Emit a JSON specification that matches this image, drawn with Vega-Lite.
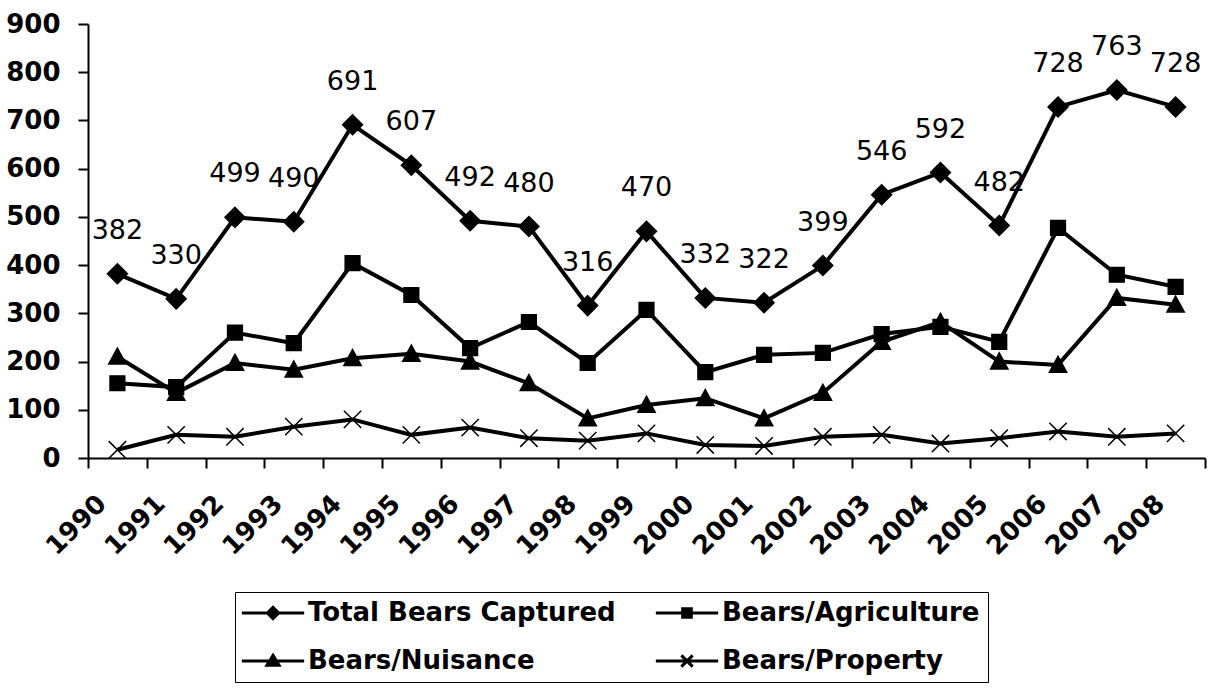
{
  "$schema": "https://vega.github.io/schema/vega-lite/v6.json",
  "width": 1117,
  "height": 434,
  "autosize": "none",
  "padding": {"left": 88, "top": 24, "right": 4, "bottom": 232},
  "background": "white",
  "config": {
    "font": "DejaVu Sans",
    "view": {"stroke": null}
  },
  "resolve": {"scale": {"shape": "independent"}, "legend": {"shape": "independent"}},
  "data": {
    "values": [
      {"year": "1990", "series": "Total Bears Captured", "value": 382},
      {"year": "1991", "series": "Total Bears Captured", "value": 330},
      {"year": "1992", "series": "Total Bears Captured", "value": 499},
      {"year": "1993", "series": "Total Bears Captured", "value": 490},
      {"year": "1994", "series": "Total Bears Captured", "value": 691},
      {"year": "1995", "series": "Total Bears Captured", "value": 607},
      {"year": "1996", "series": "Total Bears Captured", "value": 492},
      {"year": "1997", "series": "Total Bears Captured", "value": 480},
      {"year": "1998", "series": "Total Bears Captured", "value": 316},
      {"year": "1999", "series": "Total Bears Captured", "value": 470},
      {"year": "2000", "series": "Total Bears Captured", "value": 332},
      {"year": "2001", "series": "Total Bears Captured", "value": 322},
      {"year": "2002", "series": "Total Bears Captured", "value": 399},
      {"year": "2003", "series": "Total Bears Captured", "value": 546},
      {"year": "2004", "series": "Total Bears Captured", "value": 592},
      {"year": "2005", "series": "Total Bears Captured", "value": 482},
      {"year": "2006", "series": "Total Bears Captured", "value": 728},
      {"year": "2007", "series": "Total Bears Captured", "value": 763},
      {"year": "2008", "series": "Total Bears Captured", "value": 728},
      {"year": "1990", "series": "Bears/Agriculture", "value": 155},
      {"year": "1991", "series": "Bears/Agriculture", "value": 147},
      {"year": "1992", "series": "Bears/Agriculture", "value": 260},
      {"year": "1993", "series": "Bears/Agriculture", "value": 238},
      {"year": "1994", "series": "Bears/Agriculture", "value": 404},
      {"year": "1995", "series": "Bears/Agriculture", "value": 338},
      {"year": "1996", "series": "Bears/Agriculture", "value": 228},
      {"year": "1997", "series": "Bears/Agriculture", "value": 282},
      {"year": "1998", "series": "Bears/Agriculture", "value": 197},
      {"year": "1999", "series": "Bears/Agriculture", "value": 307},
      {"year": "2000", "series": "Bears/Agriculture", "value": 178},
      {"year": "2001", "series": "Bears/Agriculture", "value": 214},
      {"year": "2002", "series": "Bears/Agriculture", "value": 218},
      {"year": "2003", "series": "Bears/Agriculture", "value": 257},
      {"year": "2004", "series": "Bears/Agriculture", "value": 272},
      {"year": "2005", "series": "Bears/Agriculture", "value": 241},
      {"year": "2006", "series": "Bears/Agriculture", "value": 477},
      {"year": "2007", "series": "Bears/Agriculture", "value": 380},
      {"year": "2008", "series": "Bears/Agriculture", "value": 355},
      {"year": "1990", "series": "Bears/Nuisance", "value": 210},
      {"year": "1991", "series": "Bears/Nuisance", "value": 135},
      {"year": "1992", "series": "Bears/Nuisance", "value": 197},
      {"year": "1993", "series": "Bears/Nuisance", "value": 183},
      {"year": "1994", "series": "Bears/Nuisance", "value": 207},
      {"year": "1995", "series": "Bears/Nuisance", "value": 216},
      {"year": "1996", "series": "Bears/Nuisance", "value": 200},
      {"year": "1997", "series": "Bears/Nuisance", "value": 155},
      {"year": "1998", "series": "Bears/Nuisance", "value": 82},
      {"year": "1999", "series": "Bears/Nuisance", "value": 110},
      {"year": "2000", "series": "Bears/Nuisance", "value": 124},
      {"year": "2001", "series": "Bears/Nuisance", "value": 82},
      {"year": "2002", "series": "Bears/Nuisance", "value": 135},
      {"year": "2003", "series": "Bears/Nuisance", "value": 241},
      {"year": "2004", "series": "Bears/Nuisance", "value": 282},
      {"year": "2005", "series": "Bears/Nuisance", "value": 200},
      {"year": "2006", "series": "Bears/Nuisance", "value": 193},
      {"year": "2007", "series": "Bears/Nuisance", "value": 332},
      {"year": "2008", "series": "Bears/Nuisance", "value": 318},
      {"year": "1990", "series": "Bears/Property", "value": 17},
      {"year": "1991", "series": "Bears/Property", "value": 48},
      {"year": "1992", "series": "Bears/Property", "value": 44},
      {"year": "1993", "series": "Bears/Property", "value": 65},
      {"year": "1994", "series": "Bears/Property", "value": 80},
      {"year": "1995", "series": "Bears/Property", "value": 48},
      {"year": "1996", "series": "Bears/Property", "value": 63},
      {"year": "1997", "series": "Bears/Property", "value": 41},
      {"year": "1998", "series": "Bears/Property", "value": 36},
      {"year": "1999", "series": "Bears/Property", "value": 51},
      {"year": "2000", "series": "Bears/Property", "value": 27},
      {"year": "2001", "series": "Bears/Property", "value": 25},
      {"year": "2002", "series": "Bears/Property", "value": 44},
      {"year": "2003", "series": "Bears/Property", "value": 48},
      {"year": "2004", "series": "Bears/Property", "value": 30},
      {"year": "2005", "series": "Bears/Property", "value": 41},
      {"year": "2006", "series": "Bears/Property", "value": 55},
      {"year": "2007", "series": "Bears/Property", "value": 44},
      {"year": "2008", "series": "Bears/Property", "value": 51}
    ]
  },
  "encoding": {
    "x": {
      "field": "year",
      "type": "ordinal",
      "scale": {"type": "band", "paddingInner": 0, "paddingOuter": 0},
      "axis": {
        "title": null,
        "tickBand": "extent",
        "domainColor": "black",
        "domainWidth": 2,
        "tickColor": "black",
        "tickWidth": 2,
        "tickSize": 10,
        "labelAngle": -45,
        "labelFont": "DejaVu Sans",
        "labelFontWeight": "bold",
        "labelFontSize": 26,
        "labelColor": "black",
        "labelPadding": 22,
        "labelOffset": -25
      }
    },
    "y": {
      "field": "value",
      "type": "quantitative",
      "scale": {"domain": [0, 900], "nice": false},
      "axis": {
        "title": null,
        "values": [0, 100, 200, 300, 400, 500, 600, 700, 800, 900],
        "grid": false,
        "domainColor": "black",
        "domainWidth": 2,
        "tickColor": "black",
        "tickWidth": 2,
        "tickSize": 10,
        "labelFont": "DejaVu Sans",
        "labelFontWeight": "bold",
        "labelFontSize": 26,
        "labelColor": "black",
        "labelPadding": 18
      }
    }
  },
  "layer": [
    {
      "mark": {"type": "line", "color": "black", "strokeWidth": 4},
      "encoding": {"detail": {"field": "series"}}
    },
    {
      "mark": {"type": "point", "filled": true, "color": "black", "fill": "black", "stroke": "black", "strokeWidth": 1.5, "size": 300, "opacity": 1},
      "encoding": {
        "shape": {
          "field": "series",
          "type": "nominal",
          "scale": {
            "domain": ["Total Bears Captured", "Bears/Agriculture", "Bears/Nuisance", "Bears/Property"],
            "range": ["M0,-1.15L1.15,0L0,1.15L-1.15,0Z", "M-0.85,-0.85H0.85V0.85H-0.85Z", "M0,-1L1,0.85L-1,0.85Z", "M-1,-1L1,1M-1,1L1,-1"]
          },
          "legend": null
        }
      }
    },
    {
      "transform": [{"filter": "datum.value < 0"}],
      "mark": {"type": "point", "filled": false, "fill": "black", "stroke": "black", "strokeWidth": 3, "size": 300, "opacity": 1},
      "encoding": {
        "shape": {
          "field": "series",
          "type": "nominal",
          "scale": {
            "domain": ["Total Bears Captured", "Bears/Agriculture", "Bears/Nuisance", "Bears/Property"],
            "range": ["M-3.6,0H3.6M0,-0.65L0.65,0L0,0.65L-0.65,0Z", "M-3.6,0H3.6M-0.5,-0.5H0.5V0.5H-0.5Z", "M-3.6,0H3.6M0,-0.65L0.7,0.5L-0.7,0.5Z", "M-3.6,0H3.6M-0.65,-0.65L0.65,0.65M-0.65,0.65L0.65,-0.65"]
          },
          "legend": {
            "title": null,
            "orient": "none",
            "legendX": 147,
            "legendY": 568,
            "direction": "horizontal",
            "columns": 2,
            "columnPadding": 33,
            "rowPadding": 22,
            "padding": 8,
            "strokeColor": "black",
            "fillColor": "white",
            "labelFont": "DejaVu Sans",
            "labelFontWeight": "bold",
            "labelFontSize": 26,
            "labelColor": "black",
            "labelLimit": 0,
            "labelOffset": 22,
            "symbolSize": 300,
            "symbolOffset": 17,
            "symbolStrokeWidth": 3,
            "symbolOpacity": 1
          }
        }
      }
    },
    {
      "transform": [{"filter": "datum.series === 'Total Bears Captured'"}],
      "mark": {"type": "text", "dy": -43, "fontSize": 27, "font": "DejaVu Sans", "color": "black", "baseline": "middle"},
      "encoding": {"text": {"field": "value", "type": "quantitative"}}
    }
  ]
}
